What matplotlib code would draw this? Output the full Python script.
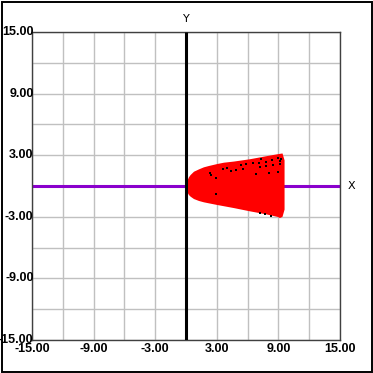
import numpy as np
import matplotlib
matplotlib.use("Agg")
import matplotlib.pyplot as plt
from matplotlib.patches import Rectangle

# outline of the red region
top_x = [0.0, 0.10, 0.29, 0.45, 0.78, 1.27, 1.75, 2.24, 3.05, 3.70, 4.67, 6.20, 7.82, 8.96, 9.40, 9.60, 9.60]
top_y = [0.40, 0.42, 0.85, 1.07, 1.39, 1.62, 1.82, 1.95, 2.14, 2.27, 2.38, 2.60, 2.90, 3.10, 3.17, 2.50, 0.0]
bot_x = [9.60, 9.60, 9.40, 9.15, 8.96, 7.82, 6.20, 4.67, 3.05, 2.24, 1.75, 1.27, 0.78, 0.45, 0.29, 0.10, 0.0]
bot_y = [0.0, -2.30, -3.00, -3.12, -3.02, -2.76, -2.46, -2.15, -1.85, -1.69, -1.59, -1.46, -1.27, -1.04, -0.88, -0.55, -0.50]

# black dots inside
dot_x = [2.30, 2.47, 2.95, 2.95, 3.60, 4.02, 4.41, 4.90, 5.39, 5.55, 5.87, 6.52, 6.85, 7.11,
         7.17, 7.27, 7.82, 7.82, 8.08, 8.41, 8.47, 8.96, 8.96, 9.12, 9.19, 9.28, 7.24, 7.66, 8.31]
dot_y = [1.23, 1.04, 0.75, -0.78, 1.65, 1.72, 1.46, 1.53, 2.01, 1.65, 2.14, 2.21, 1.14, 2.27,
         1.88, 2.60, 1.95, 2.37, 1.23, 2.50, 2.04, 1.33, 2.73, 2.47, 2.14, 2.63, -2.66, -2.76, -2.89]

ticks = np.arange(-15, 16, 3)
label_ticks = [-15, -9, -3, 3, 9, 15]

W = 373
fig = plt.figure(figsize=(W / 100, W / 100), dpi=100)
ax = fig.add_axes([32 / W, 33 / W, 308 / W, 308 / W])
ax.set_xlim(-15, 15)
ax.set_ylim(-15, 15)

ax.set_xticks(ticks)
ax.set_yticks(ticks)
ax.set_xticklabels([])
ax.set_yticklabels([])
ax.tick_params(length=0)
ax.grid(True, color="#c0c0c0", lw=1)
ax.set_axisbelow(True)
for s in ax.spines.values():
    s.set_color("#404040")
    s.set_linewidth(1)

# axis lines
ax.plot([-15, 15], [0, 0], color="#8a00cc", lw=2.2, solid_capstyle="butt", zorder=2)
ax.fill(top_x + bot_x, top_y + bot_y, color="#ff0000", lw=0, zorder=3)
ax.plot(dot_x, dot_y, "s", color="black", ms=1.5, mew=0, zorder=4)
ax.plot([0, 0], [-15, 15], color="black", lw=2.2, solid_capstyle="butt", zorder=5)

fnt = dict(family="Liberation Sans", weight="bold", size=9)
for v in label_ticks:
    ax.text(v, -15.85, "%.2f" % v, ha="center", va="center", clip_on=False, **fnt)
    ax.text(-14.85, v, "%.2f" % v, ha="right", va="center", clip_on=False, **fnt)

ax.text(16.1, 0, "X", ha="center", va="center", fontsize=8, clip_on=False)
ax.text(0, 16.3, "Y", ha="center", va="center", fontsize=8, clip_on=False)

fig.add_artist(Rectangle((1.5 / W, 1.5 / W), 370 / W, 370 / W, transform=fig.transFigure,
                         fill=False, ec="black", lw=1.4))

fig.savefig("out.png", dpi=100)
